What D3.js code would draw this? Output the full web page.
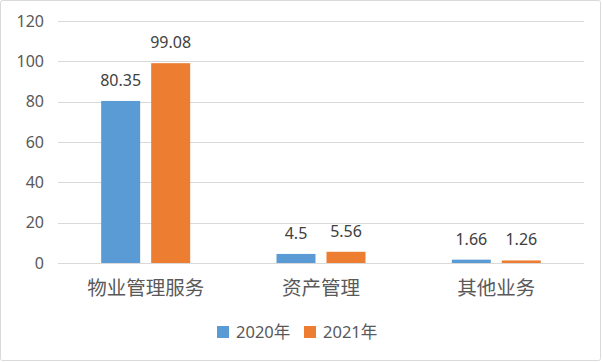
<!DOCTYPE html>
<html lang="zh-CN">
<head>
<meta charset="UTF-8">
<title>业务收入对比</title>
<style>
  body { margin: 0; background: #fff; }
  svg { display: block; font-family: 'Noto Sans', 'Noto Sans CJK SC', sans-serif; }
</style>
<script src="https://d3js.org/d3.v7.min.js"></script>
</head>
<body>
<div id="chart"></div>
<script>
const categories = ['物业管理服务', '资产管理', '其他业务'];
const seriesNames = ['2020年', '2021年'];
const values2020 = [80.35, 4.5, 1.66];
const values2021 = [99.08, 5.56, 1.26];
const yTicks = [0, 20, 40, 60, 80, 100, 120];
const colors = ['#5b9bd5', '#ed7d31'];

const W = 602, H = 362;
const M = { top: 21, right: 18, bottom: 99, left: 58 };

const svg = d3.select('#chart').append('svg')
  .attr('width', W).attr('height', H);

// outer frame
svg.append('rect')
  .attr('x', 0.5).attr('y', 0.5)
  .attr('width', W - 2).attr('height', H - 2)
  .attr('rx', 2)
  .attr('fill', '#fff').attr('stroke', '#d9d9d9');

const x = d3.scaleBand().domain(categories).range([M.left, W - M.right]);
const y = d3.scaleLinear().domain([0, 120]).range([H - M.bottom, M.top]);
const x1 = d3.scaleBand().domain(seriesNames).range([0, 89]).paddingInner(0.22);

// grid
svg.append('g').selectAll('line').data(yTicks).join('line')
  .attr('x1', M.left).attr('x2', W - M.right)
  .attr('y1', d => Math.round(y(d)) + 0.5).attr('y2', d => Math.round(y(d)) + 0.5)
  .attr('stroke', '#d9d9d9');

// y labels
svg.append('g').selectAll('text').data(yTicks).join('text')
  .attr('x', 44).attr('y', d => y(d))
  .attr('dy', '0.36em').attr('text-anchor', 'end')
  .attr('font-size', 16).attr('fill', '#595959')
  .text(d => d);

const rows = categories.map((c, i) => [
  { cat: c, s: seriesNames[0], v: values2020[i] },
  { cat: c, s: seriesNames[1], v: values2021[i] }
]).flat();

const off = (x.bandwidth() - 89) / 2;

svg.append('g').selectAll('rect').data(rows).join('rect')
  .attr('x', d => x(d.cat) + off + x1(d.s))
  .attr('y', d => y(d.v))
  .attr('width', x1.bandwidth())
  .attr('height', d => y(0) - y(d.v))
  .attr('fill', d => colors[seriesNames.indexOf(d.s)]);

svg.append('g').selectAll('text').data(rows).join('text')
  .attr('x', d => x(d.cat) + off + x1(d.s) + x1.bandwidth() / 2)
  .attr('y', d => y(d.v) - 15)
  .attr('text-anchor', 'middle')
  .attr('font-size', 16).attr('fill', '#404040')
  .text(d => d.v);

// category labels
svg.append('g').selectAll('text').data(categories).join('text')
  .attr('x', d => x(d) + x.bandwidth() / 2)
  .attr('y', 288).attr('dy', '0.36em')
  .attr('text-anchor', 'middle')
  .attr('font-size', 19.5).attr('fill', '#595959')
  .text(d => d);

// legend
const legX = [217, 304];
const leg = svg.append('g').selectAll('g').data(seriesNames).join('g')
  .attr('transform', (d, i) => `translate(${legX[i]},326)`);
leg.append('rect').attr('width', 12).attr('height', 12)
  .attr('fill', (d, i) => colors[i]);
leg.append('text').attr('x', 19).attr('y', 6).attr('dy', '0.36em')
  .attr('font-size', 16.5).attr('fill', '#595959')
  .text(d => d);
</script>
</body>
</html>
